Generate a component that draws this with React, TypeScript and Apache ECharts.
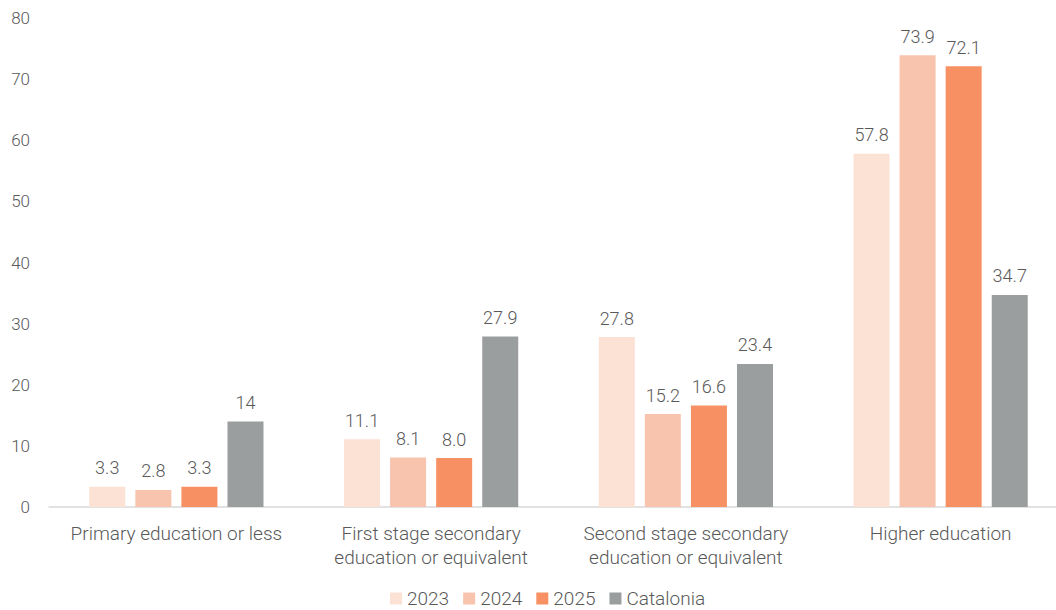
import React, { useEffect, useRef } from "react";
import * as echarts from "echarts";

const categories = [
  "Primary education or less",
  "First stage secondary\neducation or equivalent",
  "Second stage secondary\neducation or equivalent",
  "Higher education",
];
const s2023 = [3.3, 11.1, 27.8, 57.8];
const s2024 = [2.8, 8.1, 15.2, 73.9];
const s2025 = [3.3, 8.0, 16.6, 72.1];
const catalonia = [14, 27.9, 23.4, 34.7];

const FONT = "Roboto";
const TEXT = "#595959";

export default function App() {
  const ref = useRef<HTMLDivElement>(null);
  useEffect(() => {
    const chart = echarts.init(ref.current!, null, { renderer: "svg" });
    const mk = (name: string, data: number[], color: string, fixed: boolean) => ({
      name,
      type: "bar",
      data,
      barWidth: 36,
      barGap: "28%",
      itemStyle: { color },
      label: {
        show: true,
        position: "top",
        distance: 10,
        color: TEXT,
        fontFamily: FONT,
        fontWeight: 300,
        fontSize: 18,
        formatter: (p: any) => (fixed ? Number(p.value).toFixed(1) : String(p.value)),
      },
    });
    chart.setOption({
      animation: false,
      textStyle: { fontFamily: FONT },
      grid: { left: 49, right: 0, top: 18, bottom: 103, containLabel: false },
      legend: {
        top: 584,
        left: 385,
        itemWidth: 12,
        itemHeight: 12,
        itemGap: 14,
        icon: "rect",
        textStyle: { color: TEXT, fontFamily: FONT, fontWeight: 300, fontSize: 19 },
        data: ["2023", "2024", "2025", "Catalonia"],
      },
      xAxis: {
        type: "category",
        data: categories,
        axisLine: { lineStyle: { color: "#d9d9d9", width: 1.5 } },
        axisTick: { show: false },
        axisLabel: {
          color: TEXT,
          fontFamily: FONT,
          fontWeight: 300,
          fontSize: 19,
          lineHeight: 24,
          margin: 14,
          interval: 0,
        },
      },
      yAxis: {
        type: "value",
        min: 0,
        max: 80,
        interval: 10,
        splitLine: { show: false },
        axisLine: { show: false },
        axisTick: { show: false },
        axisLabel: { color: TEXT, fontFamily: FONT, fontWeight: 300, fontSize: 17, margin: 19 },
      },
      series: [
        mk("2023", s2023, "#FCE1D5", true),
        mk("2024", s2024, "#F9C4AE", true),
        mk("2025", s2025, "#F79163", true),
        mk("Catalonia", catalonia, "#9B9E9E", false),
      ],
    });
    return () => chart.dispose();
  }, []);
  return (
    <div
      style={{ position: "fixed", left: 0, top: 0, width: 1056, height: 610, overflow: "hidden", background: "#fff" }}
    >
      <div ref={ref} style={{ width: 1068, height: 610 }} />
    </div>
  );
}
